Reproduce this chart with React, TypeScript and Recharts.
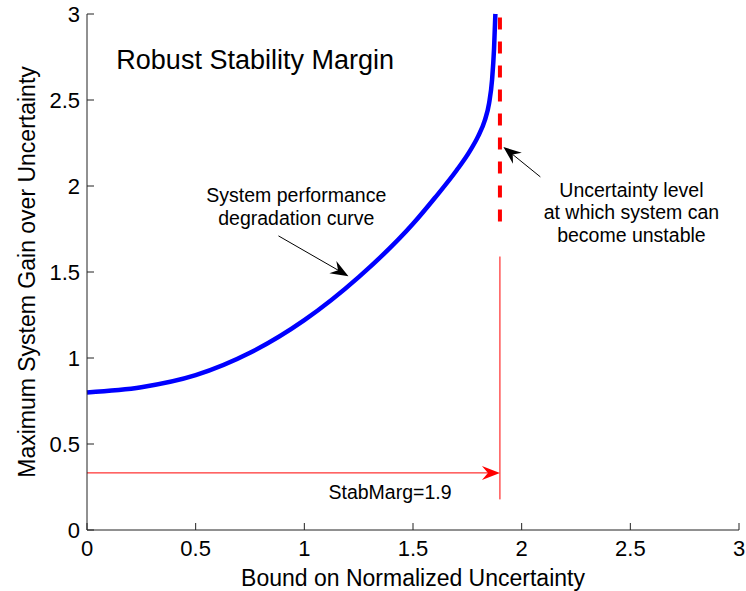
import { LineChart, Line, XAxis, YAxis, ReferenceLine, ReferenceDot, Label } from 'recharts'

// degradation curve
const curveX = [0, 0.25, 0.5, 0.75, 1.0, 1.25, 1.5, 1.6, 1.7, 1.76, 1.8, 1.83, 1.85, 1.864, 1.873, 1.879]
const curveY = [0.8, 0.83, 0.9, 1.03, 1.22, 1.47, 1.78, 1.93, 2.09, 2.2, 2.29, 2.38, 2.48, 2.62, 2.8, 3.0]

const xTicks = [0, 0.5, 1, 1.5, 2, 2.5, 3]
const yTicks = [0, 0.5, 1, 1.5, 2, 2.5, 3]

const stabMarg = 1.9
const unstableRange = [2.98, 1.79] // dashed red, top to bottom
const markerRange = [0.178, 1.59] // thin red vertical
const marginArrowLevel = 0.332

const curve = curveX.map((x, i) => ({ x, y: curveY[i] }))

const FONT = '"Liberation Sans", Arial, Helvetica, sans-serif'
const AXIS = '#222'

// line with a matlab-like notched arrowhead at the (x2, y2) end
const arrowLine = (color: string) => (p: any) => {
  const { x1, y1, x2, y2 } = p
  const a = Math.atan2(y2 - y1, x2 - x1)
  const c = Math.cos(a)
  const s = Math.sin(a)
  const len = 18
  const half = 7
  const notch = 12
  const pt = (d: number, o: number) => `${x2 - d * c - o * s},${y2 - d * s + o * c}`
  return (
    <g>
      <line x1={x1} y1={y1} x2={x2 - notch * c} y2={y2 - notch * s} stroke={color} strokeWidth={1} />
      <polygon points={`${x2},${y2} ${pt(len, half)} ${pt(notch, 0)} ${pt(len, -half)}`} fill={color} />
    </g>
  )
}

const textBlock = (lines: string[], size: number, anchor: 'start' | 'middle', step = 23) => (p: any) => {
  const top = p.cy - ((lines.length - 1) * step) / 2
  return (
    <text x={p.cx} y={top} fontSize={size} fontFamily={FONT} fill="#000" textAnchor={anchor} dominantBaseline="central">
      {lines.map((l, i) => (
        <tspan key={l} x={p.cx} y={top + i * step}>
          {l}
        </tspan>
      ))}
    </text>
  )
}

const XTick = (p: any) => (
  <g>
    <line x1={p.x} y1={p.y} x2={p.x} y2={p.y - 7} stroke={AXIS} />
    <text x={p.x} y={p.y + 18} textAnchor="middle" dominantBaseline="central" fontSize={22} fontFamily={FONT} fill="#000">
      {p.payload.value}
    </text>
  </g>
)

const YTick = (p: any) => (
  <g>
    <line x1={p.x} y1={p.y} x2={p.x + 7} y2={p.y} stroke={AXIS} />
    <text x={p.x - 7} y={p.y} textAnchor="end" dominantBaseline="central" fontSize={22} fontFamily={FONT} fill="#000">
      {p.payload.value}
    </text>
  </g>
)

export default function App() {
  return (
    <div style={{ position: 'absolute', left: 0, top: 0, background: '#fff' }}>
      <LineChart width={746} height={591} data={curve} margin={{ top: 14, right: 7, bottom: 0, left: 0 }}>
        <XAxis
          dataKey="x"
          type="number"
          domain={[0, 3]}
          ticks={xTicks}
          interval={0}
          height={61}
          tickSize={0}
          tickMargin={0}
          tickLine={false}
          tick={XTick}
          axisLine={{ stroke: AXIS }}
        >
          <Label
            content={(p: any) => (
              <text
                x={p.viewBox.x + p.viewBox.width / 2}
                y={578}
                textAnchor="middle"
                dominantBaseline="central"
                fontSize={23}
                fontFamily={FONT}
                fill="#000"
              >
                Bound on Normalized Uncertainty
              </text>
            )}
          />
        </XAxis>
        <YAxis
          type="number"
          domain={[0, 3]}
          ticks={yTicks}
          interval={0}
          width={87}
          tickSize={0}
          tickMargin={0}
          tickLine={false}
          tick={YTick}
          axisLine={{ stroke: AXIS }}
        >
          <Label
            content={(p: any) => {
              const cy = p.viewBox.y + p.viewBox.height / 2
              return (
                <text
                  x={27}
                  y={cy}
                  transform={`rotate(-90 27 ${cy})`}
                  textAnchor="middle"
                  dominantBaseline="central"
                  fontSize={23}
                  fontFamily={FONT}
                  fill="#000"
                >
                  Maximum System Gain over Uncertainty
                </text>
              )
            }}
          />
        </YAxis>

        <Line
          type="monotone"
          dataKey="y"
          stroke="#0000ff"
          strokeWidth={4.5}
          dot={false}
          activeDot={false}
          isAnimationActive={false}
        />

        <ReferenceLine
          segment={[
            { x: stabMarg, y: unstableRange[0] },
            { x: stabMarg, y: unstableRange[1] },
          ]}
          stroke="#ff0000"
          strokeWidth={4}
          strokeDasharray="12 12"
        />
        <ReferenceLine
          segment={[
            { x: stabMarg, y: markerRange[0] },
            { x: stabMarg, y: markerRange[1] },
          ]}
          stroke="#ff0000"
          strokeWidth={1}
        />
        <ReferenceLine
          segment={[
            { x: 0, y: marginArrowLevel },
            { x: stabMarg, y: marginArrowLevel },
          ]}
          shape={arrowLine('#ff0000')}
        />

        {/* annotation arrows */}
        <ReferenceLine
          segment={[
            { x: 0.881, y: 1.71 },
            { x: 1.203, y: 1.476 },
          ]}
          shape={arrowLine('#000')}
        />
        <ReferenceLine
          segment={[
            { x: 2.086, y: 2.053 },
            { x: 1.916, y: 2.227 },
          ]}
          shape={arrowLine('#000')}
        />

        {/* texts */}
        <ReferenceDot x={0.135} y={2.734} r={0} shape={textBlock(['Robust Stability Margin'], 27, 'start')} />
        <ReferenceDot
          x={0.963}
          y={1.88}
          r={0}
          shape={textBlock(['System performance', 'degradation curve'], 19.5, 'middle')}
        />
        <ReferenceDot
          x={2.505}
          y={1.846}
          r={0}
          shape={textBlock(['Uncertainty level', 'at which system can', 'become unstable'], 19.5, 'middle', 22.5)}
        />
        <ReferenceDot x={1.111} y={0.223} r={0} shape={textBlock([`StabMarg=${stabMarg}`], 19.5, 'start')} />
      </LineChart>
    </div>
  )
}
